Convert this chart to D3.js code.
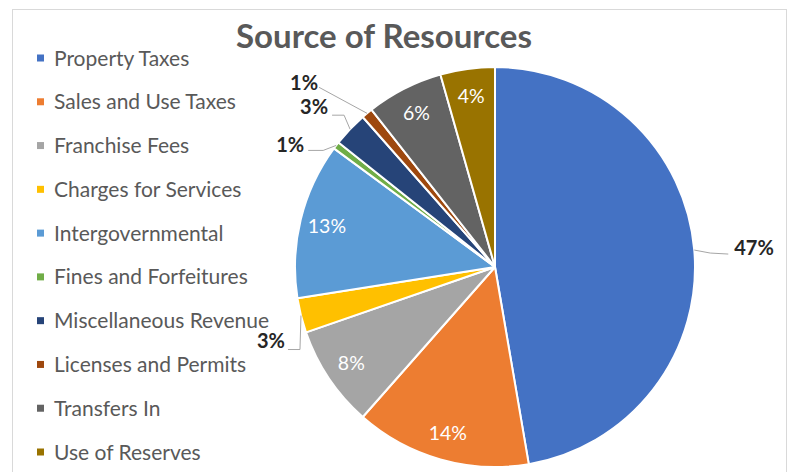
<!DOCTYPE html>
<html>
<head>
<meta charset="utf-8">
<script src="https://cdn.jsdelivr.net/npm/d3@7"></script>
<style>
  html, body { margin: 0; padding: 0; background: #ffffff; }
  svg { display: block; }
</style>
</head>
<body>
<svg id="chart" width="790" height="472"></svg>
<script>
// Revenue sources, share of total (percent)
const categories = [
  "Property Taxes",
  "Sales and Use Taxes",
  "Franchise Fees",
  "Charges for Services",
  "Intergovernmental",
  "Fines and Forfeitures",
  "Miscellaneous Revenue",
  "Licenses and Permits",
  "Transfers In",
  "Use of Reserves"
];
const shares = [47.3, 14.2, 8.2, 2.8, 12.6, 0.6, 2.8, 0.9, 6.2, 4.4];
const colors = [
  "#4472C4", "#ED7D31", "#A5A5A5", "#FFC000", "#5B9BD5",
  "#70AD47", "#264478", "#9E480E", "#636363", "#997300"
];
const title = "Source of Resources";

// How each percentage label is placed: inside the slice, or outside with a leader line.
// Leader points are offsets from the slice's outer edge at its mid-angle.
const labelPlacement = [
  { out: true, path: [[0, 0], [16, 3], [34, 4]], text: [40, 5], anchor: "start" },
  { out: false },
  { out: false },
  { out: true, path: [[0, 0], [-1, 34], [-13, 34]], text: [-16, 32], anchor: "end" },
  { out: false },
  { out: true, path: [[0, 0], [-13, 5], [-28, 5]], text: [-32, 7], anchor: "end" },
  { out: true, path: [[0, 0], [-6, -14], [-18, -14]], text: [-22, -15], anchor: "end" },
  { out: true, path: [[0, 0], [-48, -26]], text: [-49, -23], anchor: "end" },
  { out: false },
  { out: false }
];

const svg = d3.select("#chart");
const W = 790, H = 472;
const font = "Lato, 'Open Sans', sans-serif";

// chart area frame
svg.append("rect")
  .attr("x", 12.5).attr("y", 9.5)
  .attr("width", 774).attr("height", H + 10)
  .attr("fill", "#ffffff")
  .attr("stroke", "#d9d9d9").attr("stroke-width", 1);

// title
svg.append("text")
  .attr("x", 384).attr("y", 48)
  .attr("text-anchor", "middle")
  .attr("font-family", font)
  .attr("font-weight", 700)
  .attr("font-size", 33)
  .attr("fill", "#595959")
  .text(title);

// pie
const cx = 495, cy = 267, R = 200;
const total = d3.sum(shares);
const data = categories.map((c, i) => ({ name: c, value: shares[i], color: colors[i], place: labelPlacement[i] }));

const pie = d3.pie().value(d => d.value).sort(null).startAngle(0).endAngle(2 * Math.PI);
const arcs = pie(data);
const arc = d3.arc().innerRadius(0).outerRadius(R);
const labelArc = d3.arc().innerRadius(173).outerRadius(173);

const g = svg.append("g").attr("transform", `translate(${cx},${cy})`);

g.selectAll("path.slice")
  .data(arcs)
  .join("path")
  .attr("class", "slice")
  .attr("d", arc)
  .attr("fill", d => d.data.color)
  .attr("stroke", "#ffffff")
  .attr("stroke-width", 2)
  .attr("stroke-linejoin", "round");

const pct = d => Math.round(d.value / total * 100) + "%";

// inside labels
g.selectAll("text.inlabel")
  .data(arcs.filter(d => !d.data.place.out))
  .join("text")
  .attr("class", "inlabel")
  .attr("transform", d => `translate(${labelArc.centroid(d)})`)
  .attr("text-anchor", "middle")
  .attr("dy", "0.36em")
  .attr("font-family", font)
  .attr("font-size", 19.5)
  .attr("fill", "#ffffff")
  .text(d => pct(d.data));

// outside labels with leader lines
const edgePoint = d => {
  const a = (d.startAngle + d.endAngle) / 2;
  return [R * Math.sin(a), -R * Math.cos(a)];
};
const outs = arcs.filter(d => d.data.place.out);

g.selectAll("polyline.leader")
  .data(outs)
  .join("polyline")
  .attr("class", "leader")
  .attr("points", d => {
    const [ex, ey] = edgePoint(d);
    return d.data.place.path.map(([dx, dy]) => [ex + dx, ey + dy].join(",")).join(" ");
  })
  .attr("fill", "none")
  .attr("stroke", "#a6a6a6")
  .attr("stroke-width", 1);

g.selectAll("text.outlabel")
  .data(outs)
  .join("text")
  .attr("class", "outlabel")
  .attr("x", d => edgePoint(d)[0] + d.data.place.text[0])
  .attr("y", d => edgePoint(d)[1] + d.data.place.text[1])
  .attr("text-anchor", d => d.data.place.anchor)
  .attr("font-family", font)
  .attr("font-weight", 700)
  .attr("font-size", 20)
  .attr("fill", "#262626")
  .text(d => pct(d.data));

// legend
const legendY = d3.scalePoint().domain(categories).range([58, 452]);
const legend = svg.append("g");
const rows = legend.selectAll("g.row")
  .data(data)
  .join("g")
  .attr("class", "row")
  .attr("transform", d => `translate(37,${legendY(d.name)})`);

rows.append("rect")
  .attr("x", 0).attr("y", -3.5)
  .attr("width", 7).attr("height", 7)
  .attr("fill", d => d.color);

rows.append("text")
  .attr("x", 17).attr("dy", "0.36em")
  .attr("font-family", font)
  .attr("font-size", 21)
  .attr("fill", "#595959")
  .text(d => d.name);
</script>
</body>
</html>
